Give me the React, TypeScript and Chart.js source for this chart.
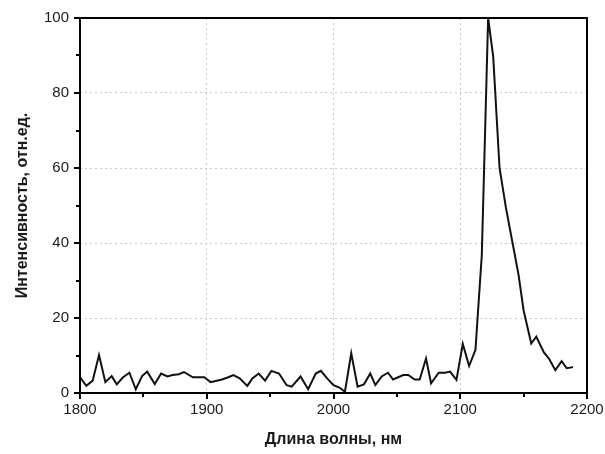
import React, { useEffect, useRef } from "react";
import { Chart, registerables } from "chart.js";
Chart.register(...registerables);

const wavelengths = [
  1800, 1805, 1810, 1815, 1820, 1825, 1829, 1834, 1839, 1844, 1849, 1853, 1859, 1864, 1869, 1873, 1878, 1882,
  1889, 1893, 1898, 1903, 1907, 1912, 1917, 1921, 1926, 1932, 1936, 1941, 1946, 1951, 1957, 1963, 1967,
  1974, 1980, 1986, 1990, 1995, 2000, 2005, 2009, 2014, 2019, 2024, 2029, 2033, 2038, 2043, 2047, 2051,
  2055, 2059, 2064, 2068, 2073, 2077, 2083, 2088, 2092, 2097, 2102, 2107, 2112, 2117, 2122, 2126, 2131,
  2136, 2141, 2146, 2150, 2156, 2160, 2166, 2170, 2175, 2180, 2184, 2189,
];
const intensity = [
  4.2, 1.9, 3.3, 10.1, 2.9, 4.5, 2.3, 4.2, 5.4, 1.0, 4.5, 5.7, 2.4, 5.2, 4.4, 4.8, 5.0, 5.6,
  4.2, 4.2, 4.2, 2.9, 3.2, 3.6, 4.2, 4.8, 3.9, 1.9, 3.9, 5.2, 3.3, 5.9, 5.2, 2.1, 1.7,
  4.4, 1.0, 5.2, 5.9, 3.9, 2.1, 1.4, 0.3, 10.6, 1.7, 2.3, 5.2, 2.1, 4.4, 5.4, 3.6, 4.2,
  4.8, 4.8, 3.6, 3.6, 9.2, 2.6, 5.4, 5.4, 5.7, 3.5, 13.1, 7.2, 11.5, 36.8, 100, 89.7, 60,
  49.5, 40.5, 31.5, 22, 13.2, 15.0, 10.8, 9.2, 6.1, 8.5, 6.6, 6.9,
];

const xTitle = "Длина волны, нм";
const yTitle = "Интенсивность, отн.ед.";
const xMin = 1800, xMax = 2200, xStep = 50, xLabelStep = 100;
const yMin = 0, yMax = 100, yStep = 10, yLabelStep = 20;

const FONT = "'Liberation Sans', Arial, sans-serif";
const TEXT = "#1a1a1a";
const GRID = "#c8c8c8";

const framePlugin = {
  id: "frame",
  afterDraw(chart: any) {
    const { ctx, chartArea, scales } = chart;
    const { left, right, top, bottom } = chartArea;
    ctx.save();
    ctx.strokeStyle = "#000";
    ctx.lineWidth = 2;
    ctx.strokeRect(left, top, right - left, bottom - top);
    ctx.beginPath();
    scales.x.ticks.forEach((t: any) => {
      const px = Math.round(scales.x.getPixelForValue(t.value));
      const len = t.value % xLabelStep === 0 ? 6 : 4;
      ctx.moveTo(px, bottom);
      ctx.lineTo(px, bottom + len);
    });
    scales.y.ticks.forEach((t: any) => {
      const py = Math.round(scales.y.getPixelForValue(t.value));
      const len = t.value % yLabelStep === 0 ? 6 : 4;
      ctx.moveTo(left, py);
      ctx.lineTo(left - len, py);
    });
    ctx.stroke();
    ctx.restore();
  },
};

export default function App() {
  const ref = useRef<HTMLCanvasElement | null>(null);
  useEffect(() => {
    if (!ref.current) return;
    const points = wavelengths.map((w, i) => ({ x: w, y: intensity[i] }));
    const chart = new Chart(ref.current, {
      type: "line",
      data: {
        datasets: [
          {
            data: points,
            borderColor: "#111",
            borderWidth: 2,
            pointRadius: 0,
            tension: 0,
            fill: false,
          },
        ],
      },
      options: {
        responsive: false,
        animation: false,
        layout: { padding: { left: 0, right: 18, top: 18, bottom: 0 } },
        plugins: { legend: { display: false }, tooltip: { enabled: false } },
        scales: {
          x: {
            type: "linear",
            min: xMin,
            max: xMax,
            afterFit: (s: any) => {
              s.height = 61;
              s.paddingLeft = 0;
              s.paddingRight = 0;
            },
            ticks: {
              stepSize: xStep,
              padding: 8,
              color: TEXT,
              font: { family: FONT, size: 15 },
              maxRotation: 0,
              autoSkip: false,
              callback: (v: any) => (v % xLabelStep === 0 ? String(v) : ""),
            },
            grid: {
              drawTicks: false,
              lineWidth: 1,
              color: (c: any) => {
                const v = c.tick?.value;
                return v !== undefined && v % xLabelStep === 0 && v !== xMin && v !== xMax ? GRID : "rgba(0,0,0,0)";
              },
            },
            border: { display: false, dash: [2, 3] },
            title: {
              display: true,
              text: xTitle,
              color: TEXT,
              font: { family: FONT, size: 16, weight: "bold" },
              padding: { top: 0, bottom: 5 },
            },
          },
          y: {
            min: yMin,
            max: yMax,
            afterFit: (s: any) => {
              s.width = 80;
              s.paddingTop = 0;
              s.paddingBottom = 0;
            },
            ticks: {
              stepSize: yStep,
              padding: 11,
              color: TEXT,
              font: { family: FONT, size: 15 },
              autoSkip: false,
              callback: (v: any) => (v % yLabelStep === 0 ? String(v) : ""),
            },
            grid: {
              drawTicks: false,
              lineWidth: 1,
              color: (c: any) => {
                const v = c.tick?.value;
                return v !== undefined && v % yLabelStep === 0 && v !== yMin && v !== yMax ? GRID : "rgba(0,0,0,0)";
              },
            },
            border: { display: false, dash: [2, 3] },
            title: {
              display: true,
              text: yTitle,
              color: TEXT,
              font: { family: FONT, size: 16, weight: "bold" },
              padding: { top: 13, bottom: 0 },
            },
          },
        },
      },
      plugins: [framePlugin],
    });
    return () => chart.destroy();
  }, []);
  return (
    <div style={{ position: "absolute", left: 0, top: 0, width: 605, height: 454, background: "#fff" }}>
      <canvas ref={ref} width={605} height={454} style={{ display: "block" }} />
    </div>
  );
}
